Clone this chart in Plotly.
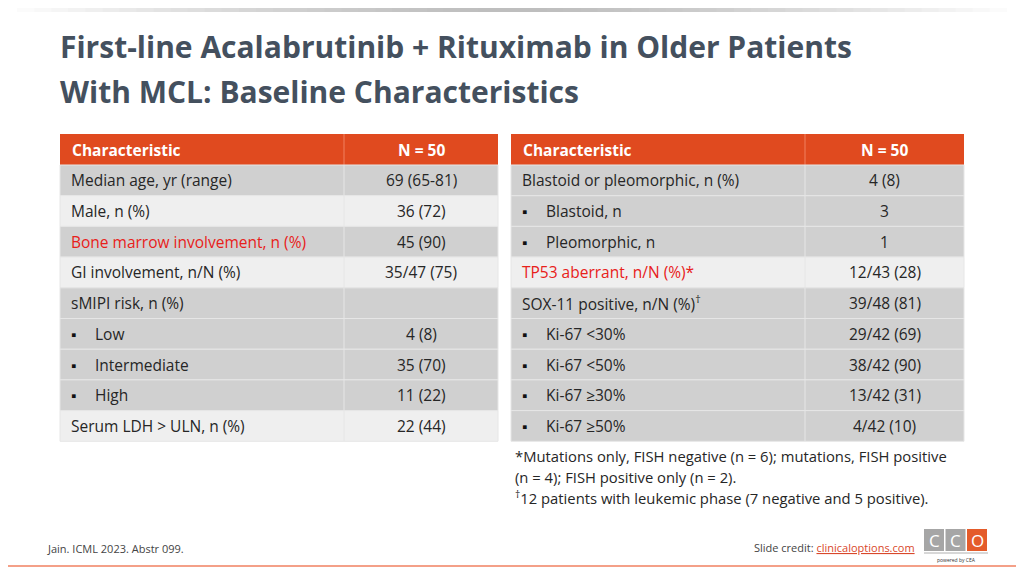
import plotly.graph_objects as go

title_lines = ["First-line Acalabrutinib + Rituximab in Older Patients",
               "With MCL: Baseline Characteristics"]

header = ["Characteristic", "N = 50"]

left_labels = ["Median age, yr (range)", "Male, n (%)", "Bone marrow involvement, n (%)",
               "GI involvement, n/N (%)", "sMIPI risk, n (%)", "Low", "Intermediate", "High",
               "Serum LDH > ULN, n (%)"]
left_values = ["69 (65-81)", "36 (72)", "45 (90)", "35/47 (75)", "", "4 (8)", "35 (70)", "11 (22)", "22 (44)"]
left_bullet = [0, 0, 0, 0, 0, 1, 1, 1, 0]
left_red = [0, 0, 1, 0, 0, 0, 0, 0, 0]
left_shade = [1, 0, 1, 0, 1, 1, 1, 1, 0]

right_labels = ["Blastoid or pleomorphic, n (%)", "Blastoid, n", "Pleomorphic, n",
                "TP53 aberrant, n/N (%)*", "SOX-11 positive, n/N (%)<sup>†</sup>",
                "Ki-67 <30%", "Ki-67 <50%", "Ki-67 ≥30%", "Ki-67 ≥50%"]
right_values = ["4 (8)", "3", "1", "12/43 (28)", "39/48 (81)", "29/42 (69)", "38/42 (90)", "13/42 (31)", "4/42 (10)"]
right_bullet = [0, 1, 1, 0, 0, 1, 1, 1, 1]
right_red = [0, 0, 0, 1, 0, 0, 0, 0, 0]
right_shade = [1, 1, 1, 0, 1, 1, 1, 1, 1]

footnote_lines = ["*Mutations only, FISH negative (n = 6); mutations, FISH positive",
                  "(n = 4); FISH positive only (n = 2).",
                  "<sup>†</sup>12 patients with leukemic phase (7 negative and 5 positive)."]

ORANGE = "#e04a1f"
GREY = "#d0d0d0"
LIGHT = "#efefef"
FONT = "Open Sans"
FS = 15.5

fig = go.Figure()
shapes, ann = [], []

# top gradient bar
n = 60
for i in range(n):
    t = i / (n - 1)
    g = int(255 - 65 * (1 - abs(2 * t - 1) ** 1.5))
    shapes.append(dict(type="rect", x0=i * 1024 / n, x1=(i + 1) * 1024 / n + 1, y0=0, y1=12,
                       line_width=0, fillcolor=f"rgb({g},{g},{g})", layer="below"))

for k, line in enumerate(title_lines):
    ann.append(dict(x=58, y=46 + k * 45, text="<b>" + line + "</b>", xanchor="left", yanchor="middle",
                    font=dict(family=FONT, size=30, color="#44505e"), showarrow=False))


def table(x0, xs, x1, labels, values, bullet, red, shade):
    top, hh, rh = 134, 31, 30.7
    shapes.append(dict(type="rect", x0=x0, x1=x1, y0=top, y1=top + hh, fillcolor=ORANGE, line_width=0))
    shapes.append(dict(type="line", x0=xs, x1=xs, y0=top, y1=top + hh, line=dict(color="#f08060", width=1)))
    ann.append(dict(x=x0 + 10, y=top + hh / 2, text="<b>" + header[0] + "</b>", xanchor="left",
                    font=dict(family=FONT, size=FS, color="white"), showarrow=False))
    ann.append(dict(x=(xs + x1) / 2, y=top + hh / 2, text="<b>" + header[1] + "</b>", xanchor="center",
                    font=dict(family=FONT, size=FS, color="white"), showarrow=False))
    for i, lab in enumerate(labels):
        y0 = top + hh + i * rh
        shapes.append(dict(type="rect", x0=x0, x1=x1, y0=y0, y1=y0 + rh,
                           fillcolor=GREY if shade[i] else LIGHT, line=dict(color="#e6e6e6", width=1)))
        shapes.append(dict(type="line", x0=xs, x1=xs, y0=y0, y1=y0 + rh, line=dict(color="#e6e6e6", width=1)))
        col = "#e8201a" if red[i] else "#262626"
        ym = y0 + rh / 2
        if bullet[i]:
            ann.append(dict(x=x0 + 9, y=ym, text="▪", xanchor="left",
                            font=dict(family=FONT, size=15, color="#111"), showarrow=False))
            ann.append(dict(x=x0 + 33, y=ym, text=lab, xanchor="left",
                            font=dict(family=FONT, size=FS, color=col), showarrow=False))
        else:
            ann.append(dict(x=x0 + 9, y=ym, text=lab, xanchor="left",
                            font=dict(family=FONT, size=FS, color=col), showarrow=False))
        ann.append(dict(x=(xs + x1) / 2, y=ym, text=values[i], xanchor="center",
                        font=dict(family=FONT, size=FS, color="#262626"), showarrow=False))


table(60, 344, 498, left_labels, left_values, left_bullet, left_red, left_shade)
table(511, 805, 964, right_labels, right_values, right_bullet, right_red, right_shade)

for k, line in enumerate(footnote_lines):
    ann.append(dict(x=513, y=456 + k * 20.5, text=line, xanchor="left", yanchor="middle",
                    font=dict(family=FONT, size=14.8, color="#262626"), showarrow=False))

ann.append(dict(x=45, y=548, text="Jain. ICML 2023. Abstr 099.", xanchor="left",
                font=dict(family=FONT, size=11, color="#444"), showarrow=False))
ann.append(dict(x=917, y=547, text="Slide credit: <span style='color:#d9482b'><u>clinicaloptions.com</u></span>",
                xanchor="right", font=dict(family=FONT, size=11, color="#444"), showarrow=False))

# logo
for i, (c, t) in enumerate([("#a6a6a6", "C"), ("#a6a6a6", "C"), ("#e45b2a", "O")]):
    shapes.append(dict(type="rect", x0=924 + i * 21.5, x1=944 + i * 21.5, y0=529, y1=551,
                       fillcolor=c, line_width=0))
    ann.append(dict(x=934 + i * 21.5, y=540, text=t, showarrow=False,
                    font=dict(family=FONT, size=17, color="white")))
shapes.append(dict(type="line", x0=924, x1=988, y0=553, y1=553, line=dict(color="#b0b0b0", width=1)))
ann.append(dict(x=956, y=560, text="powered by CEA", showarrow=False,
                font=dict(family=FONT, size=5, color="#333")))

shapes.append(dict(type="line", x0=0, x1=1024, y0=566, y1=566, line=dict(color="#f08060", width=1.5)))

# page renders with an 8px body margin, so show x/y from 8 onward
fig.update_layout(
    width=1016, height=568, margin=dict(l=0, r=0, t=0, b=0),
    paper_bgcolor="white", plot_bgcolor="white",
    xaxis=dict(range=[8, 1024], visible=False, fixedrange=True),
    yaxis=dict(range=[576, 8], visible=False, fixedrange=True),
    shapes=shapes, annotations=ann, showlegend=False,
)
fig.write_html("out.html", config={"displayModeBar": False})
